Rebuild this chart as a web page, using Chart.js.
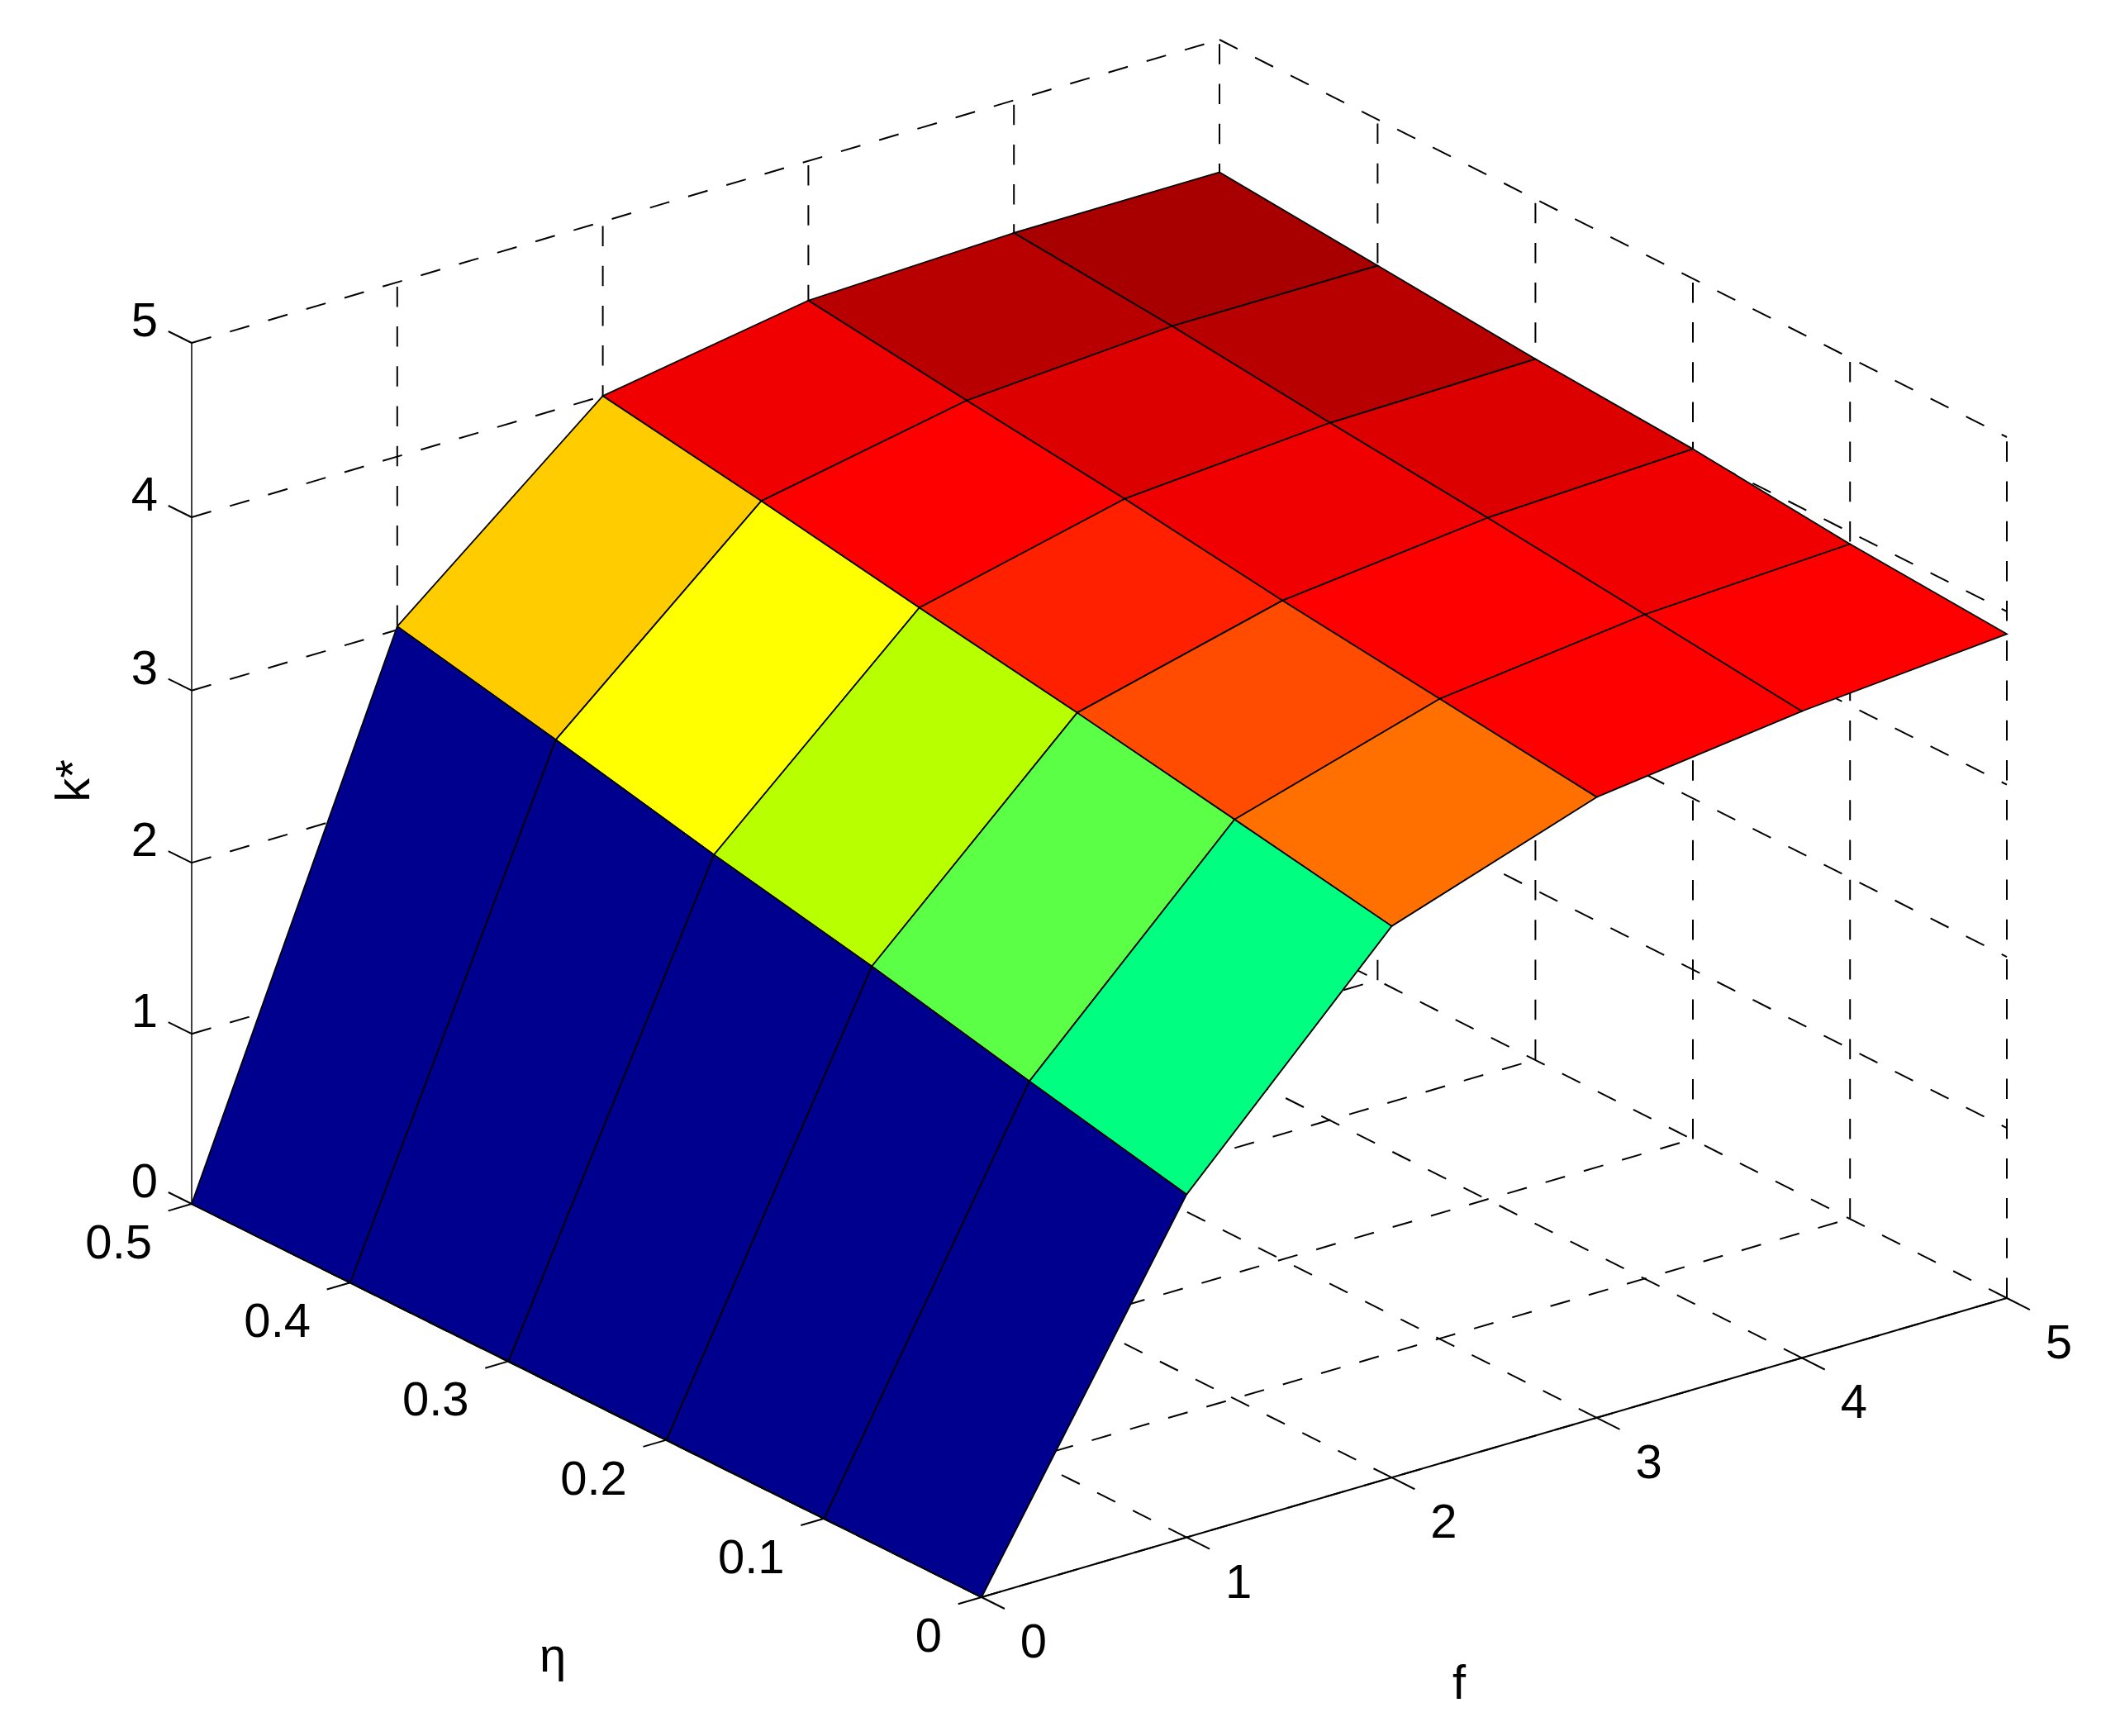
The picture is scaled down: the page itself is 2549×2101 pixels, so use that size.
<!DOCTYPE html>
<html>
<head>
<meta charset="utf-8">
<title>k* surface</title>
<script src="https://cdn.jsdelivr.net/npm/chart.js@4"></script>
<style>
html, body { margin: 0; padding: 0; background: #fff; }
canvas { display: block; }
</style>
</head>
<body>
<canvas id="myChart" width="2549" height="2101"></canvas>
<script>
const fValues = [0, 1, 2, 3, 4, 5];
const etaValues = [0, 0.1, 0.2, 0.3, 0.4, 0.5];
const kTicks = [0, 1, 2, 3, 4, 5];
const fLabels = ['0', '1', '2', '3', '4', '5'];
const etaLabels = ['0', '0.1', '0.2', '0.3', '0.4', '0.5'];
const kLabels = ['0', '1', '2', '3', '4', '5'];
// k* per eta (rows) and f (columns)
const kEta00 = [0, 2.01, 3.22, 3.62, 3.77, 3.87];
const kEta01 = [0, 2.21, 3.38, 3.73, 3.87, 3.93];
const kEta02 = [0, 2.42, 3.54, 3.84, 3.97, 4.02];
const kEta03 = [0, 2.61, 3.69, 3.97, 4.06, 4.08];
const kEta04 = [0, 2.82, 3.85, 4.08, 4.16, 4.16];
const kEta05 = [0, 3.02, 4.00, 4.20, 4.24, 4.24];
const kSurface = [kEta00, kEta01, kEta02, kEta03, kEta04, kEta05];
// flat colour of each patch, rows follow eta, columns follow f
const cellColors = [
    ['#00008f', '#00ff80', '#ff7000', '#ff0000', '#ff0000'],
    ['#00008f', '#5aff46', '#ff4c00', '#ff0000', '#f00000'],
    ['#00008f', '#b8ff00', '#ff2000', '#f00000', '#dc0000'],
    ['#00008f', '#ffff00', '#ff0000', '#dc0000', '#b80000'],
    ['#00008f', '#ffcc00', '#f00000', '#b80000', '#a80000']
];

const fMax = fValues[fValues.length - 1];
const etaMax = etaValues[etaValues.length - 1];
const kMax = kTicks[kTicks.length - 1];

// view of the box, matlab style
function project(f, eta, k) {
    const cross = (f / fMax) * (eta / etaMax);
    return {
        x: 1188 + 248.2 * f - 1912 * eta + 3 * cross + 20 * eta * (etaMax - eta),
        y: 1933 - 72.4 * f - 952 * eta - 208.4 * k - 5 * cross + 0.65 * k * (5 - k)
    };
}

function line3d(from, to, width, dash) {
    return {
        data: [project(from[0], from[1], from[2]), project(to[0], to[1], to[2])],
        showLine: true,
        pointRadius: 0,
        borderColor: '#000',
        borderWidth: width,
        borderDash: dash || [],
        fill: false
    };
}

const dash = [24.5, 23.7];
const layers = [];

// grid on the walls and the floor
fValues.forEach(function (f) {
    layers.push(line3d([f, 0, 0], [f, etaMax, 0], 2, dash));
    if (f > 0) layers.push(line3d([f, etaMax, 0], [f, etaMax, kMax], 2, dash));
});
etaValues.forEach(function (eta) {
    if (eta < etaMax) {
        layers.push(line3d([0, eta, 0], [fMax, eta, 0], 2, dash));
        layers.push(line3d([fMax, eta, 0], [fMax, eta, kMax], 2, dash));
    }
});
kTicks.forEach(function (k) {
    if (k > 0) {
        layers.push(line3d([0, etaMax, k], [fMax, etaMax, k], 2, dash));
        layers.push(line3d([fMax, etaMax, k], [fMax, 0, k], 2, dash));
    }
});

// axes and ticks
layers.push(line3d([0, 0, 0], [fMax, 0, 0], 2));
layers.push(line3d([0, 0, 0], [0, etaMax, 0], 2));
layers.push(line3d([0, etaMax, 0], [0, etaMax, kMax], 1.5));
fValues.forEach(function (f) {
    layers.push(line3d([f, 0, 0], [f, -0.0147, 0], 2));
});
etaValues.forEach(function (eta) {
    layers.push(line3d([0, eta, 0], [-0.114, eta, 0], 2));
});
kTicks.forEach(function (k) {
    layers.push(line3d([0, etaMax, k], [0, etaMax + 0.0147, k], 2));
});

// surface patches, far ones first
for (let j = etaValues.length - 2; j >= 0; j--) {
    for (let i = fValues.length - 2; i >= 0; i--) {
        const corners = [
            project(fValues[i], etaValues[j], kSurface[j][i]),
            project(fValues[i + 1], etaValues[j], kSurface[j][i + 1]),
            project(fValues[i + 1], etaValues[j + 1], kSurface[j + 1][i + 1]),
            project(fValues[i], etaValues[j + 1], kSurface[j + 1][i])
        ];
        corners.push(corners[0]);
        layers.push({
            data: corners,
            showLine: true,
            pointRadius: 0,
            borderColor: '#000',
            borderWidth: 1.8,
            backgroundColor: cellColors[j][i],
            fill: 'shape'
        });
    }
}

const textPlugin = {
    id: 'axisText',
    afterDraw: function (chart) {
        const ctx = chart.ctx;
        const sx = chart.scales.x;
        const sy = chart.scales.y;
        function put(text, p, dx, dy, align, rotate) {
            ctx.save();
            ctx.translate(sx.getPixelForValue(p.x) + dx, sy.getPixelForValue(p.y) + dy);
            if (rotate) ctx.rotate(-Math.PI / 2);
            ctx.textAlign = align;
            ctx.textBaseline = 'alphabetic';
            ctx.fillStyle = '#000';
            ctx.fillText(text, 0, 0);
            ctx.restore();
        }
        ctx.font = '58px "Liberation Sans"';
        fValues.forEach(function (f, i) {
            put(fLabels[i], project(f, 0, 0), 63, 73, 'center');
        });
        etaValues.forEach(function (eta, i) {
            put(etaLabels[i], project(0, eta, 0), -48, 66, 'right');
        });
        kTicks.forEach(function (k, i) {
            put(kLabels[i], project(0, etaMax, k), -57, -8, 'center');
        });
        put('f', project(fMax / 2, 0, 0), -42.5, 304, 'center');
        put('η', project(0, etaMax / 2, 0), -42, 328, 'center');
        put('k*', project(0, etaMax, kMax / 2), -124, 5, 'center', true);
    }
};

const ctx = document.getElementById('myChart').getContext('2d');
const myChart = new Chart(ctx, {
    type: 'scatter',
    data: { datasets: layers.reverse() },
    options: {
        responsive: false,
        animation: false,
        devicePixelRatio: 1,
        layout: { padding: 0 },
        elements: { line: { tension: 0 } },
        plugins: { legend: { display: false }, tooltip: { enabled: false } },
        scales: {
            x: { type: 'linear', min: 0, max: 2549, display: false },
            y: { type: 'linear', min: 0, max: 2101, reverse: true, display: false }
        }
    },
    plugins: [textPlugin]
});
</script>
</body>
</html>
